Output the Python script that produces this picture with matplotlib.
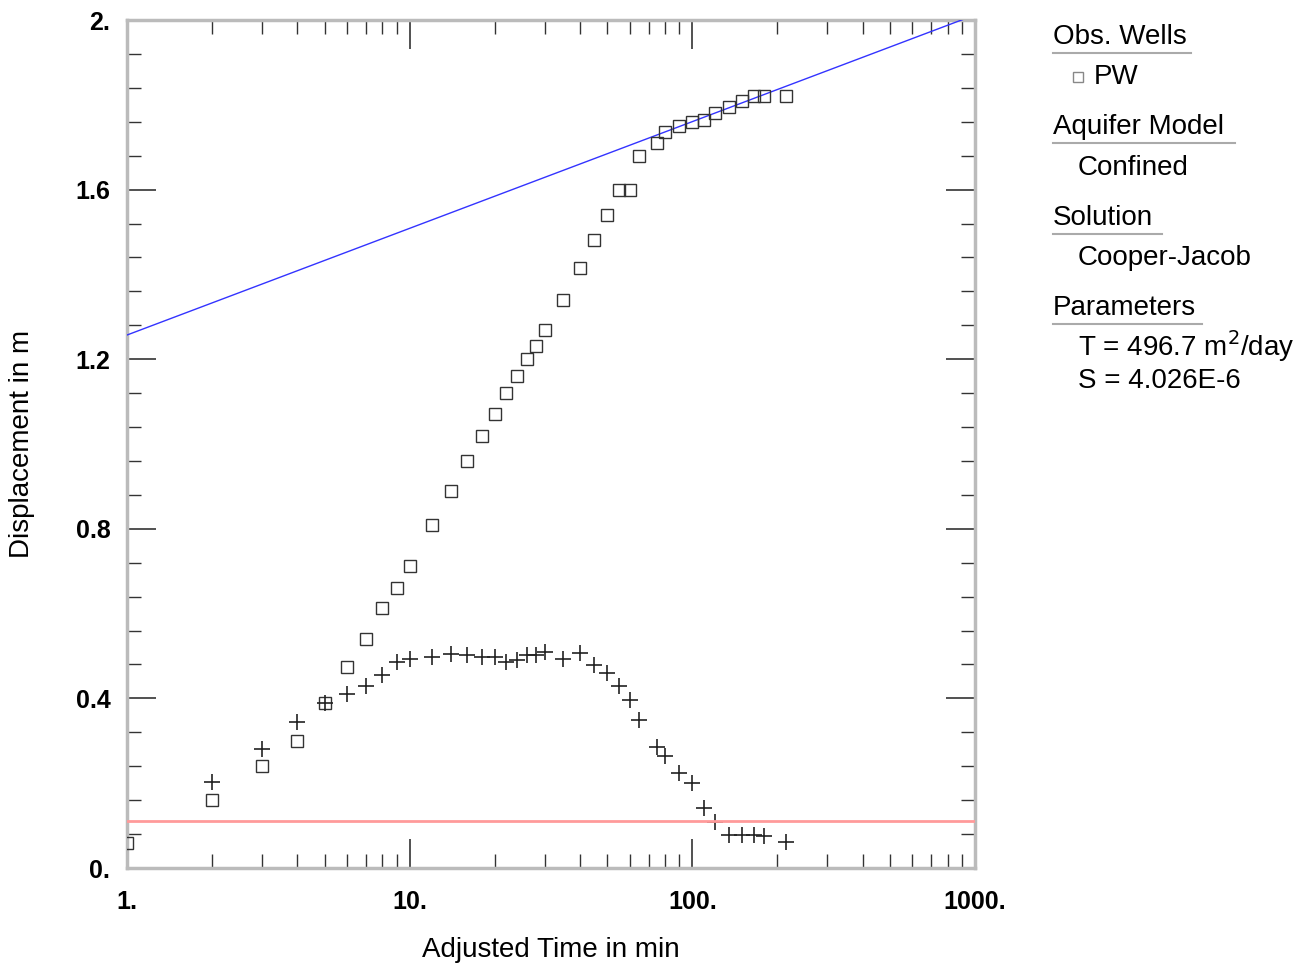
import numpy as np
import matplotlib.pyplot as plt
from matplotlib.ticker import FixedLocator, NullFormatter

W, H = 1296, 966

# observed displacement (squares)
obsTime = [1, 2, 3, 4, 5, 6, 7, 8, 9, 10, 12, 14, 16, 18, 20, 22, 24, 26, 28, 30,
           35, 40, 45, 50, 55, 60, 65, 75, 80, 90, 100, 110, 120, 135, 150, 165,
           180, 215]
obsDisp = [0.06, 0.16, 0.24, 0.30, 0.39, 0.474, 0.54, 0.613, 0.66, 0.712, 0.81,
           0.89, 0.96, 1.02, 1.07, 1.12, 1.16, 1.20, 1.23, 1.27, 1.34, 1.415,
           1.48, 1.54, 1.60, 1.60, 1.68, 1.71, 1.735, 1.75, 1.76, 1.765, 1.78,
           1.795, 1.81, 1.82, 1.82, 1.82]

# derivative (crosses)
derTime = [2, 3, 4, 5, 6, 7, 8, 9, 10, 12, 14, 16, 18, 20, 22, 24, 26, 28, 30,
           35, 40, 45, 50, 55, 60, 65, 75, 80, 90, 100, 110, 120, 135, 150, 165,
           180, 215]
derDisp = [0.203, 0.28, 0.345, 0.39, 0.41, 0.43, 0.455, 0.486, 0.493, 0.498,
           0.505, 0.502, 0.498, 0.498, 0.486, 0.49, 0.502, 0.502, 0.51, 0.493,
           0.507, 0.479, 0.46, 0.43, 0.396, 0.349, 0.285, 0.264, 0.224, 0.2,
           0.141, 0.109, 0.078, 0.078, 0.078, 0.075, 0.061]

# Cooper-Jacob straight line fit
fitTime = [1, 1000]
fitDisp = [1.257, 2.012]

# horizontal reference line
refLevel = 0.111

xTicks = [1, 10, 100, 1000]
xTickLabels = ["1.", "10.", "100.", "1000."]
yTicks = [0, 0.4, 0.8, 1.2, 1.6, 2.0]
yTickLabels = ["0.", "0.4", "0.8", "1.2", "1.6", "2."]

plt.rcParams["font.family"] = ["Liberation Sans", "DejaVu Sans"]
TEXT_SIZE = 20

fig = plt.figure(figsize=(W / 100, H / 100), dpi=100)
ax = fig.add_axes([127 / W, (H - 868) / H, 848 / W, 848 / H])

ax.plot(fitTime, fitDisp, color="#3333ff", linewidth=1, zorder=3)
ax.axhline(refLevel, color="#ff9a9a", linewidth=2, zorder=4)
ax.plot(obsTime, obsDisp, linestyle="none", marker="s", markersize=9,
        markerfacecolor="none", markeredgecolor="#333333", markeredgewidth=1, zorder=3)
ax.plot(derTime, derDisp, linestyle="none", marker="+", markersize=11,
        color="#222222", markeredgewidth=1.2, zorder=3)

ax.set_xscale("log")
ax.set_xlim(1, 1000)
ax.set_ylim(0, 2)

ax.set_xticks(xTicks)
ax.set_xticklabels(xTickLabels)
minorX = [m * d for d in [1, 10, 100] for m in range(2, 10)]
ax.xaxis.set_minor_locator(FixedLocator(minorX))
ax.xaxis.set_minor_formatter(NullFormatter())
ax.set_yticks(yTicks)
ax.set_yticklabels(yTickLabels)
ax.yaxis.set_minor_locator(FixedLocator(np.arange(0, 2.001, 0.08)))

ax.tick_params(which="both", direction="in", top=True, right=True,
               labelsize=18, color="#333333")
ax.tick_params(axis="x", which="major", pad=16)
ax.tick_params(axis="y", which="major", pad=12)
ax.tick_params(which="major", length=21, width=1.2)
ax.tick_params(which="minor", length=10, width=1)
for lbl in ax.get_xticklabels() + ax.get_yticklabels():
    lbl.set_fontweight("bold")

for spine in ax.spines.values():
    spine.set_color("#bbbbbb")
    spine.set_linewidth(2.5)

ax.set_xlabel("Adjusted Time in min", fontsize=TEXT_SIZE, va="center")
ax.set_ylabel("Displacement in m", fontsize=TEXT_SIZE, va="center")
ax.xaxis.set_label_coords(0.5, (868 - 950) / 848)
ax.yaxis.set_label_coords((22 - 127) / 848, 0.5)


def px(x, y):
    return x / W, 1 - y / H


# legend panel at the right
headers = [("Obs. Wells", 37, 1191), ("Aquifer Model", 127, 1235),
           ("Solution", 218, 1162), ("Parameters", 308, 1202)]
for text, y, xEnd in headers:
    fig.text(*px(1053, y), text, fontsize=TEXT_SIZE, va="center", ha="left")
    fig.add_artist(plt.Line2D([1053 / W, xEnd / W], [1 - (y + 16) / H] * 2,
                              color="#aaaaaa", linewidth=1.5))

fig.add_artist(plt.Line2D([1078 / W], [1 - 77 / H], marker="s", markersize=7,
                          markerfacecolor="none", markeredgecolor="#888888"))
fig.text(*px(1094, 77), "PW", fontsize=TEXT_SIZE, va="center", ha="left")
fig.text(*px(1078, 168), "Confined", fontsize=TEXT_SIZE, va="center", ha="left")
fig.text(*px(1078, 258), "Cooper-Jacob", fontsize=TEXT_SIZE, va="center", ha="left")
fig.text(*px(1078, 346), "T = 496.7 m$^2$/day", fontsize=TEXT_SIZE, va="center", ha="left")
fig.text(*px(1078, 381), "S = 4.026E-6", fontsize=TEXT_SIZE, va="center", ha="left")

fig.savefig("out.png", dpi=100)
